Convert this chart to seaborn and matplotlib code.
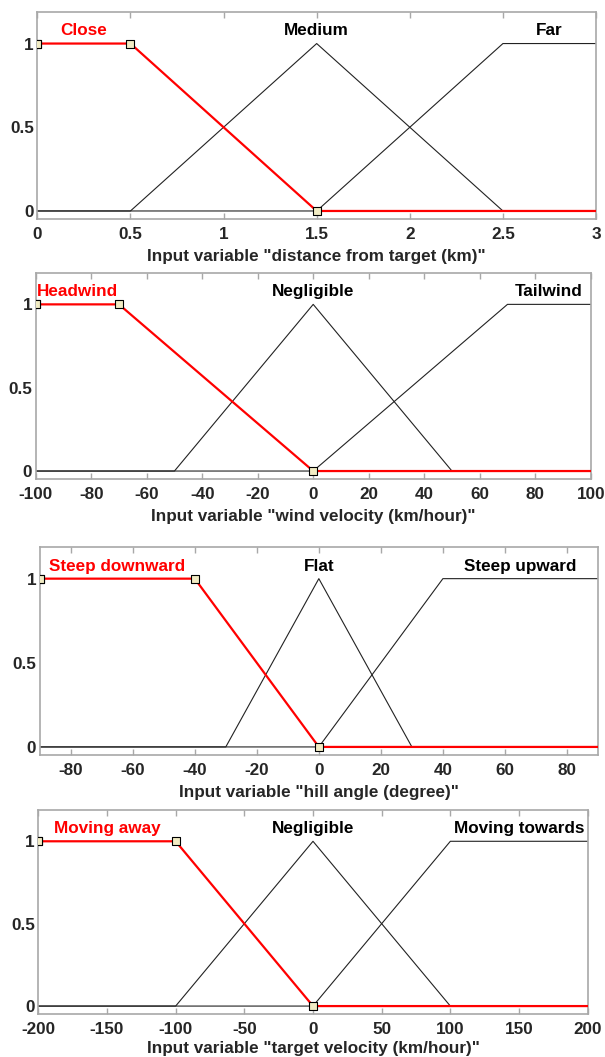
import matplotlib
matplotlib.use("Agg")
import matplotlib.pyplot as plt
import seaborn as sns
import pandas as pd

sns.set_style("white")
plt.rcParams["font.family"] = ["Liberation Sans", "DejaVu Sans"]
plt.rcParams["font.weight"] = "bold"

# Input variable 1: distance from target
dist_range = [0, 3]
dist_ticks = [0, 0.5, 1, 1.5, 2, 2.5, 3]
dist_names = ["Close", "Medium", "Far"]
dist_params = [[0, 0, 0.5, 1.5], [0.5, 1.5, 1.5, 2.5], [1.5, 2.5, 3, 3]]
dist_label = 'Input variable "distance from target (km)"'

# Input variable 2: wind velocity
wind_range = [-100, 100]
wind_ticks = [-100, -80, -60, -40, -20, 0, 20, 40, 60, 80, 100]
wind_names = ["Headwind", "Negligible", "Tailwind"]
wind_params = [[-100, -100, -70, 0], [-50, 0, 0, 50], [0, 70, 100, 100]]
wind_label = 'Input variable "wind velocity (km/hour)"'

# Input variable 3: hill angle
hill_range = [-90, 90]
hill_ticks = [-80, -60, -40, -20, 0, 20, 40, 60, 80]
hill_names = ["Steep downward", "Flat", "Steep upward"]
hill_params = [[-90, -90, -40, 0], [-30, 0, 0, 30], [0, 40, 90, 90]]
hill_label = 'Input variable "hill angle (degree)"'

# Input variable 4: target velocity
tvel_range = [-200, 200]
tvel_ticks = [-200, -150, -100, -50, 0, 50, 100, 150, 200]
tvel_names = ["Moving away", "Negligible", "Moving towards"]
tvel_params = [[-200, -200, -100, 0], [-100, 0, 0, 100], [0, 100, 200, 200]]
tvel_label = 'Input variable "target velocity (km/hour)"'

panels = [
    (dist_range, dist_ticks, dist_names, dist_params, dist_label),
    (wind_range, wind_ticks, wind_names, wind_params, wind_label),
    (hill_range, hill_ticks, hill_names, hill_params, hill_label),
    (tvel_range, tvel_ticks, tvel_names, tvel_params, tvel_label),
]

# axes boxes in figure fractions [left, bottom, width, height]
boxes = [
    [0.0617, 0.7928, 0.9235, 0.1961],
    [0.0590, 0.5468, 0.9174, 0.1952],
    [0.0656, 0.2857, 0.9228, 0.1971],
    [0.0633, 0.0407, 0.9081, 0.1930],
]
label_pads = [5.5, 5.5, 5.5, 3.0]

FS = 12.3
FRAME = "#a8a8a8"


def trap(x, p):
    a, b, c, d = p
    if x < a or x > d:
        return 0.0
    if b <= x <= c:
        return 1.0
    if x < b:
        return (x - a) / (b - a)
    return (d - x) / (d - c)


def polyline(p, lo, hi):
    xs = [lo] + [v for v in p] + [hi]
    return pd.DataFrame({"x": xs, "mu": [trap(v, p) for v in xs]})


def fmt(v):
    return f"{v:g}"


fig = plt.figure(figsize=(6.05, 10.57), dpi=100)

for (rng, ticks, names, params, xlabel), box, lp in zip(panels, boxes, label_pads):
    ax = fig.add_axes(box)
    lo, hi = rng
    # unselected membership functions in black
    for p in params[1:]:
        sns.lineplot(data=polyline(p, lo, hi), x="x", y="mu", sort=False,
                     estimator=None, color="#222222", lw=0.8, ax=ax)
    # selected membership function in red with vertex markers
    sel = params[0]
    sns.lineplot(data=polyline(sel, lo, hi), x="x", y="mu", sort=False,
                 estimator=None, color="#ff0000", lw=1.6, ax=ax, zorder=4)
    sns.scatterplot(x=sel, y=[trap(v, sel) for v in sel], marker="s", s=34,
                    color="#f2ecc4", edgecolor="black", linewidth=0.8,
                    ax=ax, zorder=5, clip_on=True)
    # membership function names above each plateau
    for i, (n, p) in enumerate(zip(names, params)):
        ax.text((p[1] + p[2]) / 2, 1.075, n, ha="center", va="center",
                fontsize=FS, fontweight="bold",
                color="#ff0000" if i == 0 else "black")

    ax.set_xlim(lo, hi)
    ax.set_ylim(-0.048, 1.19)
    ax.set_xticks(ticks)
    ax.set_xticklabels([fmt(t) for t in ticks])
    ax.set_yticks([0, 0.5, 1])
    ax.set_yticklabels(["0", "0.5", "1"])
    ax.tick_params(axis="x", direction="in", length=4, width=1, color=FRAME,
                   top=True, bottom=True, pad=5.5, labelsize=FS)
    ax.tick_params(axis="y", length=0, pad=2.5, labelsize=FS)
    for lab in ax.get_xticklabels() + ax.get_yticklabels():
        lab.set_fontweight("bold")
    ax.set_xlabel(xlabel, fontsize=FS, fontweight="bold", labelpad=lp)
    ax.set_ylabel("")
    for s in ax.spines.values():
        s.set_visible(True)
        s.set_color(FRAME)
        s.set_linewidth(1.2)

fig.savefig("out.png", dpi=100, facecolor="white")
